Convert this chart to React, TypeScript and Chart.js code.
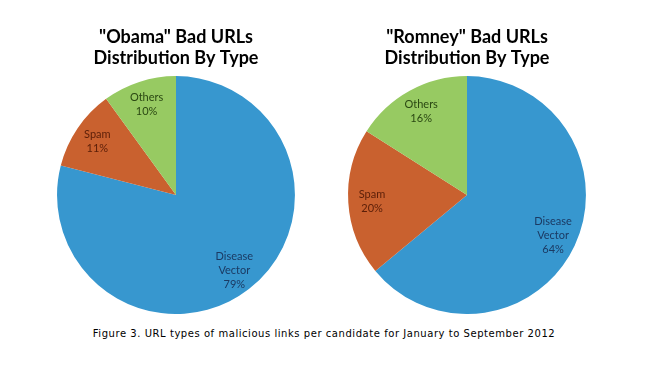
import React, { useEffect, useRef } from "react";
import { Chart, registerables } from "chart.js";

Chart.register(...registerables);

const categories = ["Disease Vector", "Spam", "Others"];
const obamaValues = [79, 11, 10];
const romneyValues = [64, 20, 16];
const obamaTitle = ['"Obama" Bad URLs', "Distribution By Type"];
const romneyTitle = ['"Romney" Bad URLs', "Distribution By Type"];
const caption = "Figure 3. URL types of malicious links per candidate for January to September 2012";

const sliceColors = ["#3797CF", "#C9612F", "#97CA62"];
const labelColors = ["#1B3A63", "#5A1E08", "#2A4712"];

const sliceLabels = {
  id: "sliceLabels",
  afterDatasetsDraw(chart: any) {
    const ctx = chart.ctx;
    const meta = chart.getDatasetMeta(0);
    const data = chart.data.datasets[0].data as number[];
    ctx.save();
    ctx.font = "11px Lato";
    ctx.textAlign = "center";
    ctx.textBaseline = "middle";
    meta.data.forEach((arc: any, i: number) => {
      const p = arc.getProps(["x", "y", "startAngle", "endAngle", "outerRadius"], true);
      const mid = (p.startAngle + p.endAngle) / 2;
      const r = p.outerRadius * 0.8;
      const cx = p.x + Math.cos(mid) * r;
      const cy = p.y + Math.sin(mid) * r;
      const lines = String(chart.data.labels[i]).split(" ").concat([data[i] + "%"]);
      const lh = 14;
      const y0 = cy - ((lines.length - 1) * lh) / 2;
      ctx.fillStyle = labelColors[i];
      lines.forEach((t: string, k: number) => ctx.fillText(t, cx, y0 + k * lh));
    });
    ctx.restore();
  },
};

function PieChart({ values, title }: { values: number[]; title: string[] }) {
  const ref = useRef<HTMLCanvasElement>(null);
  useEffect(() => {
    const chart = new Chart(ref.current!, {
      type: "pie",
      data: {
        labels: categories,
        datasets: [{ data: values, backgroundColor: sliceColors, borderWidth: 0 }],
      },
      options: {
        animation: false,
        responsive: false,
        layout: { padding: 0 },
        plugins: {
          legend: { display: false },
          tooltip: { enabled: false },
          title: {
            display: true,
            text: title,
            color: "#000",
            font: { family: "Lato", size: 18, weight: "bold", lineHeight: 1.17 },
            padding: { top: 27, bottom: 7 },
          },
        },
      },
      plugins: [sliceLabels],
    });
    return () => chart.destroy();
  }, []);
  return <canvas ref={ref} width={280} height={314} />;
}

export default function App() {
  useEffect(() => {
    document.body.style.margin = "0";
  }, []);
  return (
    <div style={{ position: "relative", width: 648, height: 372, background: "#fff" }}>
      <div style={{ position: "absolute", left: 36, top: 0 }}>
        <PieChart values={obamaValues} title={obamaTitle} />
      </div>
      <div style={{ position: "absolute", left: 327, top: 0 }}>
        <PieChart values={romneyValues} title={romneyTitle} />
      </div>
      <div
        style={{
          position: "absolute",
          left: 0,
          width: 648,
          top: 328,
          textAlign: "center",
          fontFamily: "'DejaVu Sans', Verdana, sans-serif",
          fontSize: 10,
          letterSpacing: "0.55px",
          color: "#000",
        }}
      >
        {caption}
      </div>
    </div>
  );
}
